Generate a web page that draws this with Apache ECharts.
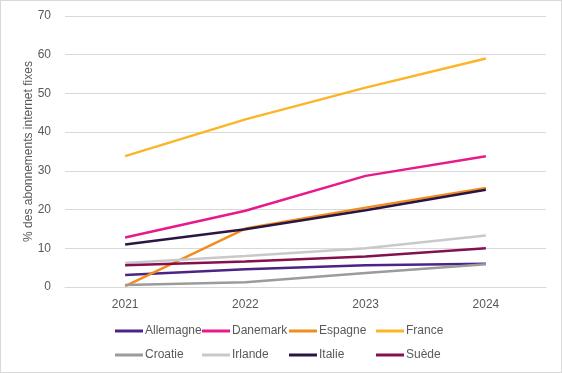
<!DOCTYPE html>
<html><head><meta charset="utf-8">
<script src="https://cdn.jsdelivr.net/npm/echarts@6/dist/echarts.min.js"></script>
<style>html,body{margin:0;padding:0;background:#fff}#c{width:562px;height:373px;box-sizing:border-box;border:1px solid #d9d9d9}</style>
</head><body><div id="c"></div>
<script>
const years = ['2021','2022','2023','2024'];
const allemagne = [3.1, 4.6, 5.6, 6.0];
const danemark = [12.8, 19.7, 28.7, 33.8];
const espagne = [0.2, 15.1, 20.5, 25.6];
const france = [33.8, 43.3, 51.5, 59.0];
const croatie = [0.5, 1.2, 3.6, 5.9];
const irlande = [6.2, 8.0, 10.0, 13.3];
const italie = [11.0, 14.9, 19.8, 25.1];
const suede = [5.6, 6.6, 7.9, 10.0];
const names = ['Allemagne','Danemark','Espagne','France','Croatie','Irlande','Italie','Suède'];
const values = [allemagne, danemark, espagne, france, croatie, irlande, italie, suede];
const colors = ['#4B2585','#E8198B','#F28C1E','#FBB526','#9B9B9B','#C9C9C9','#2B1543','#85104F'];
const font = 'Liberation Sans';
const chart = echarts.init(document.getElementById('c'));
const legendLefts = [109, 196, 283, 370];
const legendTops = [319, 343];
const legends = names.map((n,i)=>({
  left: legendLefts[i%4], top: legendTops[Math.floor(i/4)], data:[n],
  itemWidth:28, itemHeight:3, itemGap:0, icon:'rect',
  textStyle:{fontFamily:font, fontSize:12, color:'#595959', padding:[0,0,0,-3]}
}));
chart.setOption({
  animation:false,
  textStyle:{fontFamily:font},
  grid:{left:64, right:15, top:15, bottom:85},
  legend: legends,
  xAxis:{type:'category', data:years, boundaryGap:true,
    axisLine:{show:true, lineStyle:{color:'#d9d9d9'}}, axisTick:{show:false},
    axisLabel:{color:'#595959', fontSize:12, margin:12}},
  yAxis:{type:'value', min:0, max:70, interval:10,
    name:'% des abonnements internet fixes', nameLocation:'middle', nameGap:30,
    nameMoveOverlap:false,
    nameTextStyle:{color:'#595959', fontSize:12},
    axisLine:{show:false}, axisTick:{show:false},
    axisLabel:{color:'#595959', fontSize:12, margin:14},
    splitLine:{lineStyle:{color:'#d9d9d9', width:1}}},
  series: names.map((n,i)=>({name:n, type:'line', data:values[i], symbol:'none',
    color:colors[i], lineStyle:{width:2.5, color:colors[i]}}))
});
</script></body></html>
